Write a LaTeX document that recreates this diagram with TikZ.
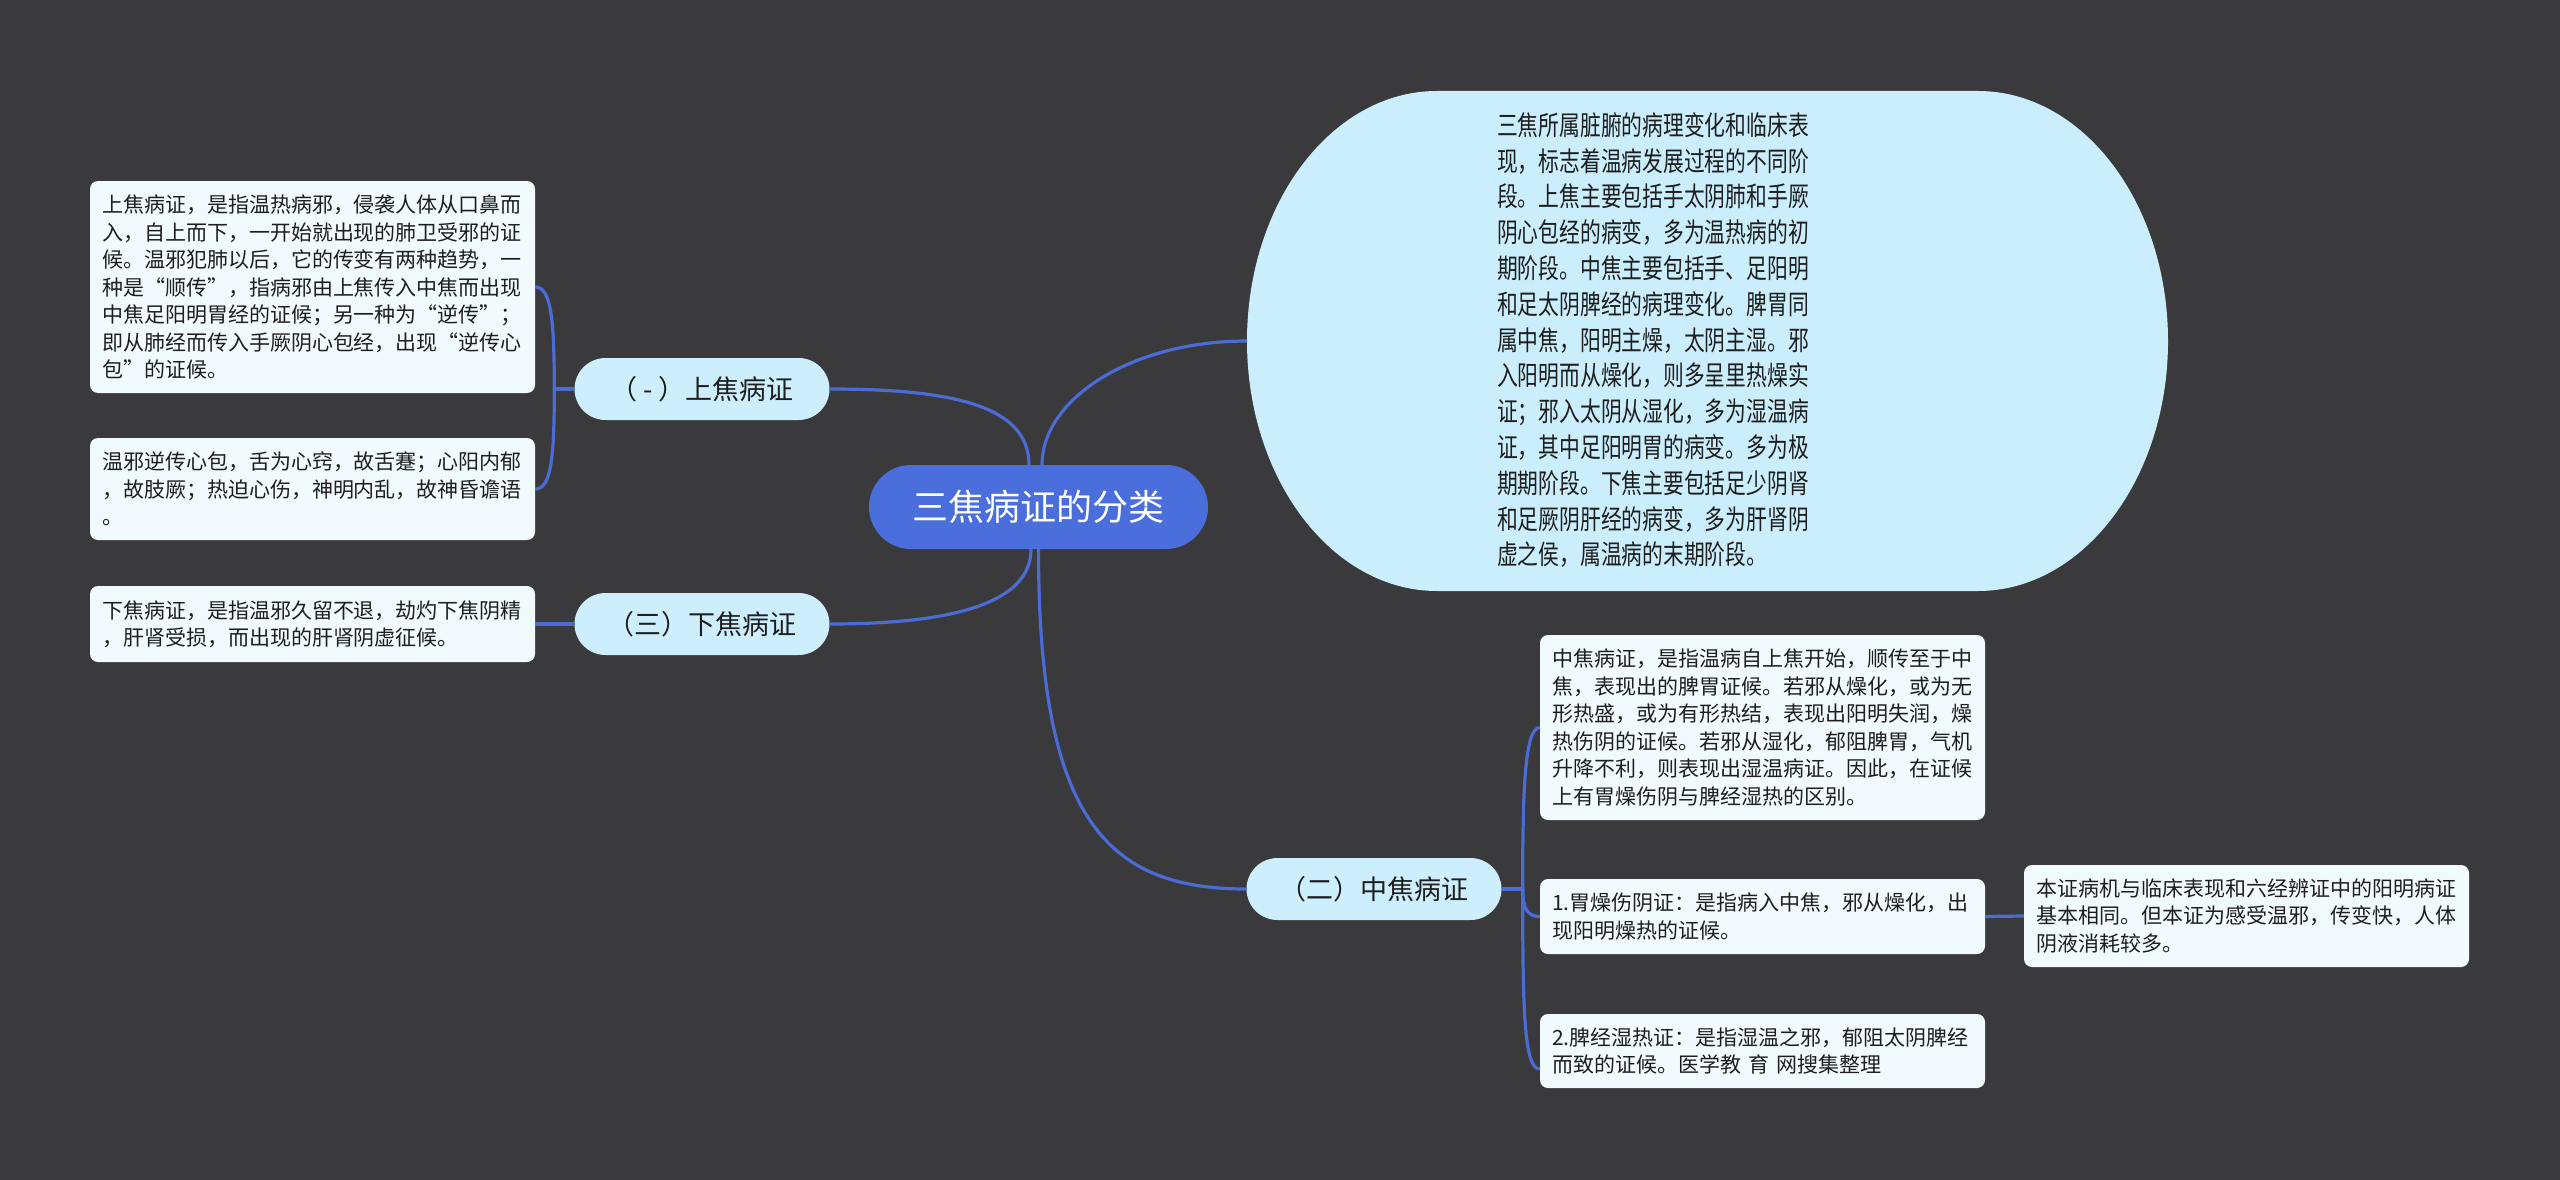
\documentclass[tikz,border=0pt]{standalone}
\usepackage{fontspec}
\newfontfamily\cjk{Noto Sans CJK SC}
\newfontfamily\cjknarrow[FakeStretch=0.77]{Noto Sans CJK SC}
\definecolor{bgc}{HTML}{3A393B}
\definecolor{linec}{HTML}{4B6BD5}
\definecolor{centerc}{HTML}{4A6EDB}
\definecolor{lvlc}{HTML}{CDEFFD}
\definecolor{bubc}{HTML}{CBEEFD}
\definecolor{leafc}{HTML}{F1FBFE}
\definecolor{textc}{HTML}{1E1E1E}
\begin{document}
\begin{tikzpicture}[x=1pt,y=-1pt,
  conn/.style={line width=3.2pt, draw=linec},
  leaf/.style={fill=leafc, rounded corners=8pt, inner xsep=12pt, inner ysep=0pt,
    text width=421pt, align=left, font=\cjk\fontsize{21pt}{27.5pt}\selectfont, text=textc},
  lvl/.style={fill=lvlc, rounded corners=31pt, minimum width=255pt, minimum height=62pt,
    inner sep=0pt, font=\cjk\fontsize{27pt}{32pt}\selectfont, text=textc},
  root/.style={fill=centerc, rounded corners=42pt, minimum width=339pt, minimum height=84pt,
    inner sep=0pt, font=\cjk\fontsize{36pt}{42pt}\selectfont, text=white},
]
\useasboundingbox (0,0) rectangle (2560,1180);
\fill[bgc] (0,0) rectangle (2560,1180);

% big bubble
\fill[bubc] (1437,91) -- (1978,91)
  arc[start angle=90,end angle=0,x radius=190pt,y radius=250pt]
  arc[start angle=0,end angle=-90,x radius=190pt,y radius=250pt]
  -- (1437,591)
  arc[start angle=270,end angle=180,x radius=190pt,y radius=250pt]
  arc[start angle=180,end angle=90,x radius=190pt,y radius=250pt] -- cycle;
\coordinate (bW) at (1247,341);
\node[align=left, inner sep=0pt, text=textc, font=\cjknarrow\fontsize{27pt}{35.8pt}\selectfont] (bub) at (1653,340) {%
三焦所属脏腑的病理变化和临床表\\
现，标志着温病发展过程的不同阶\\
段。上焦主要包括手太阴肺和手厥\\
阴心包经的病变，多为温热病的初\\
期阶段。中焦主要包括手、足阳明\\
和足太阴脾经的病理变化。脾胃同\\
属中焦，阳明主燥，太阴主湿。邪\\
入阳明而从燥化，则多呈里热燥实\\
证；邪入太阴从湿化，多为湿温病\\
证，其中足阳明胃的病变。多为极\\
期期阶段。下焦主要包括足少阴肾\\
和足厥阴肝经的病变，多为肝肾阴\\
虚之侯，属温病的末期阶段。};

% root and level 1
\node[root] (c) at (1038.5,507) {三焦病证的分类};
\node[lvl] (n1) at (702,389) {（ - ）上焦病证};
\node[lvl] (n3) at (702,624) {（三）下焦病证};
\node[lvl] (n2) at (1374,889) {（二）中焦病证};

% leaves
\node[leaf, minimum height=212pt] (lA) at (312.5,287) {%
上焦病证，是指温热病邪，侵袭人体从口鼻而\\
入，自上而下，一开始就出现的肺卫受邪的证\\
候。温邪犯肺以后，它的传变有两种趋势，一\\
种是“顺传”，指病邪由上焦传入中焦而出现\\
中焦足阳明胃经的证候；另一种为“逆传”；\\
即从肺经而传入手厥阴心包经，出现“逆传心\\
包”的证候。};
\node[leaf, minimum height=102pt] (lB) at (312.5,489) {%
温邪逆传心包，舌为心窍，故舌蹇；心阳内郁\\
，故肢厥；热迫心伤，神明内乱，故神昏谵语\\
。};
\node[leaf, minimum height=76pt] (lC) at (312.5,624) {%
下焦病证，是指温邪久留不退，劫灼下焦阴精\\
，肝肾受损，而出现的肝肾阴虚征候。};
\node[leaf, minimum height=185pt] (lM) at (1762.5,727.5) {%
中焦病证，是指温病自上焦开始，顺传至于中\\
焦，表现出的脾胃证候。若邪从燥化，或为无\\
形热盛，或为有形热结，表现出阳明失润，燥\\
热伤阴的证候。若邪从湿化，郁阻脾胃，气机\\
升降不利，则表现出湿温病证。因此，在证候\\
上有胃燥伤阴与脾经湿热的区别。};
\node[leaf, minimum height=75pt] (lM1) at (1762.5,916.5) {%
1.胃燥伤阴证：是指病入中焦，邪从燥化，出\\
现阳明燥热的证候。};
\node[leaf, minimum height=74pt] (lM2) at (1762.5,1051) {%
2.脾经湿热证：是指湿温之邪，郁阻太阴脾经\\
而致的证候。医学教 育 网搜集整理};
\node[leaf, minimum height=102pt] (lR) at (2246.5,916) {%
本证病机与临床表现和六经辨证中的阳明病证\\
基本相同。但本证为感受温邪，传变快，人体\\
阴液消耗较多。};

% connectors
\draw[conn] ([xshift=-9.5pt]c.north) .. controls +(0,-60) and +(120,0) .. (n1.east);
\draw[conn] ([xshift=3.5pt]c.north) .. controls +(0,-65) and +(-117,0) .. (bW);
\draw[conn] ([xshift=-7.5pt]c.south) .. controls +(0,55) and +(120,0) .. (n3.east);
\draw[conn] (c.south) .. controls +(0,270) and +(-140,0) .. (n2.west);

\draw[conn] (n1.west) -- ++(-20,0) coordinate (j1);
\draw[conn] (j1) .. controls +(0,-69) and +(16,0) .. (lA.east);
\draw[conn] (j1) .. controls +(0,69) and +(16,0) .. (lB.east);
\draw[conn] (n3.west) -- (lC.east);

\draw[conn] (n2.east) -- ++(21,0) coordinate (j2);
\draw[conn] (j2) .. controls +(0,-90) and +(-16,0) .. (lM.west);
\draw[conn] (j2) .. controls +(0,20) and +(-12,0) .. (lM1.west);
\draw[conn] (j2) .. controls +(0,120) and +(-16,0) .. ([yshift=-18pt]lM2.west);
\draw[conn] (lM1.east) -- (lR.west);
\end{tikzpicture}
\end{document}
